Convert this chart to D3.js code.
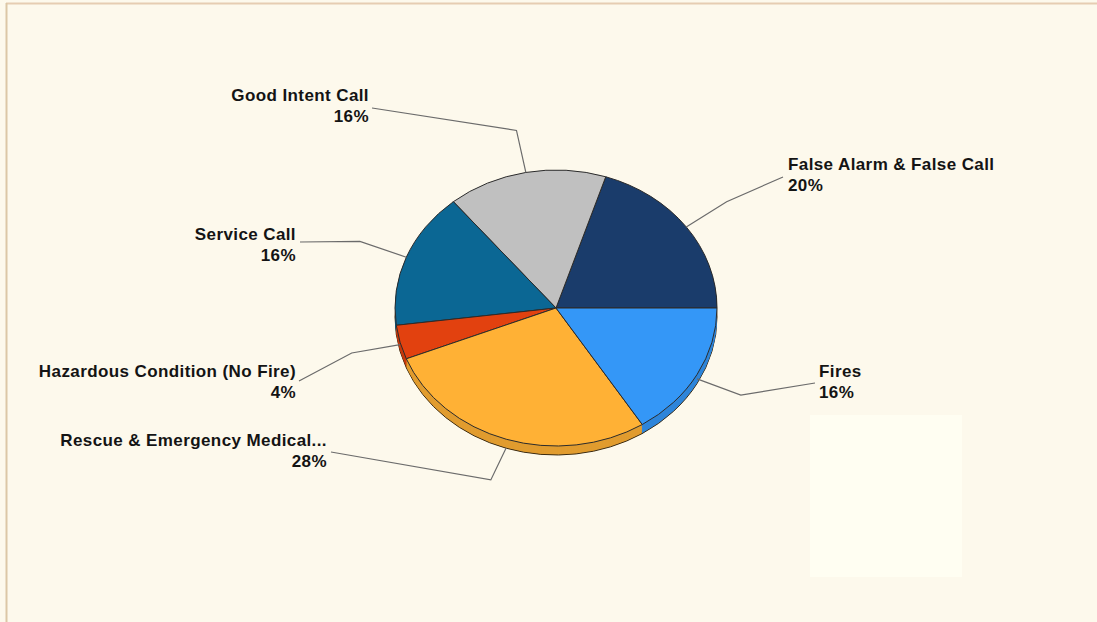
<!DOCTYPE html>
<html>
<head>
<meta charset="utf-8">
<script src="https://cdn.jsdelivr.net/npm/d3@7"></script>
<style>
  body { margin: 0; background: #fdf9ec; }
  svg { display: block; }
  text { font-family: "Liberation Sans", Arial, sans-serif; font-weight: bold; font-size: 17px; letter-spacing: 0.4px; fill: #141414; }
</style>
</head>
<body>
<script>
const categories = ['False Alarm & False Call', 'Good Intent Call', 'Service Call',
                    'Hazardous Condition (No Fire)', 'Rescue & Emergency Medical...', 'Fires']
const shares = [20, 16, 16, 4, 28, 16]
const pctLabels = ['20%', '16%', '16%', '4%', '28%', '16%']
const colors = ['#1a3c6b', '#c0c0c0', '#0b6794', '#e2410f', '#ffb135', '#3497f7']

const w = 1097
const h = 622
const cx = 556
const cy = 308
const rx = 161
const ry = 138
const depth = 9

// where each label sits and where its leader line stops
const labelLayout = [
    { x: 788, y: 170, anchor: 'start', lx: 783, ly: 177 },
    { x: 369, y: 101, anchor: 'end', lx: 372, ly: 108 },
    { x: 296, y: 240, anchor: 'end', lx: 300, ly: 242 },
    { x: 296, y: 377, anchor: 'end', lx: 299, ly: 381 },
    { x: 327, y: 446, anchor: 'end', lx: 331, ly: 452 },
    { x: 819, y: 377, anchor: 'start', lx: 815, ly: 383 }
]

const svg = d3.select('body')
    .append('svg')
    .attr('width', w)
    .attr('height', h)

svg.append('rect')
    .attr('width', w)
    .attr('height', h)
    .attr('fill', '#fdf9ec')

// faint lighter patch and frame lines of the original capture
svg.append('rect')
    .attr('x', 810).attr('y', 415)
    .attr('width', 152).attr('height', 162)
    .attr('fill', '#fffef2')

svg.append('line')
    .attr('x1', 6).attr('x2', w).attr('y1', 3.5).attr('y2', 3.5)
    .attr('stroke', '#e6cdb2').attr('stroke-width', 2)
svg.append('line')
    .attr('x1', 6.5).attr('x2', 6.5).attr('y1', 3).attr('y2', h)
    .attr('stroke', '#dcc7a6').attr('stroke-width', 2)

const pie = d3.pie()
    .sort(null)
    .startAngle(Math.PI / 2)
    .endAngle(Math.PI / 2 - 2 * Math.PI)

const arcs = pie(shares)
const arc = d3.arc().innerRadius(0).outerRadius(ry)

// side of the disc: stacked copies, darker
for (let d = depth; d >= 1; d--) {
    svg.append('g')
        .attr('transform', `translate(${cx},${cy + d}) scale(${rx / ry},1)`)
        .selectAll('path')
        .data(arcs)
        .enter()
        .append('path')
        .attr('d', arc)
        .attr('fill', (p, i) => d3.color(colors[i]).darker(0.35))
        .attr('stroke', d === depth ? '#3a2a10' : 'none')
        .attr('stroke-width', 1)
        .attr('vector-effect', 'non-scaling-stroke')
}

svg.append('g')
    .attr('transform', `translate(${cx},${cy}) scale(${rx / ry},1)`)
    .selectAll('path')
    .data(arcs)
    .enter()
    .append('path')
    .attr('d', arc)
    .attr('fill', (p, i) => colors[i])
    .attr('stroke', '#2b2b2b')
    .attr('stroke-width', 1)
    .attr('vector-effect', 'non-scaling-stroke')

// leader lines
const leaders = arcs.map((p, i) => {
    const a = (p.startAngle + p.endAngle) / 2
    const sx = Math.sin(a), cy0 = -Math.cos(a)
    const drop = cy0 > 0 ? depth * cy0 : 0
    const start = [cx + rx * sx, cy + ry * cy0 + drop]
    const elbow = [cx + rx * 1.31 * sx, cy + ry * 1.31 * cy0]
    const end = [labelLayout[i].lx, labelLayout[i].ly]
    return [start, elbow, end]
})

svg.append('g')
    .selectAll('path')
    .data(leaders)
    .enter()
    .append('path')
    .attr('d', d3.line())
    .attr('fill', 'none')
    .attr('stroke', '#6b6b6b')
    .attr('stroke-width', 1.2)

const labels = svg.append('g')
    .selectAll('text')
    .data(categories)
    .enter()
    .append('text')
    .attr('x', (d, i) => labelLayout[i].x)
    .attr('y', (d, i) => labelLayout[i].y)
    .attr('text-anchor', (d, i) => labelLayout[i].anchor)

labels.append('tspan')
    .text(d => d)
labels.append('tspan')
    .attr('x', (d, i) => labelLayout[i].x)
    .attr('dy', 21)
    .text((d, i) => pctLabels[i])
</script>
</body>
</html>
